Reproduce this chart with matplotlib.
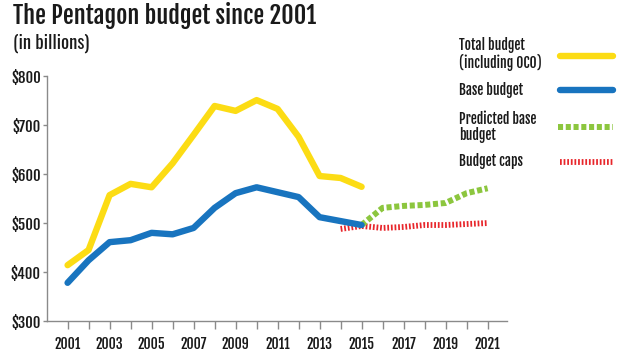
import matplotlib
matplotlib.use("Agg")
import matplotlib.pyplot as plt

years = list(range(2001, 2016))
total_budget = [414, 445, 557, 580, 573, 622, 680, 739, 729, 751, 733, 676, 596, 592, 574]
base_budget = [378, 424, 461, 465, 480, 477, 490, 531, 561, 573, 563, 553, 512, 504, 496]
pred_years = list(range(2015, 2022))
predicted_base = [496, 531, 535, 537, 541, 561, 571]
cap_years = list(range(2014, 2022))
budget_caps = [488, 494, 490, 492, 496, 496, 498, 500]

xtick_years = list(range(2001, 2022, 2))
ytick_vals = [300, 400, 500, 600, 700, 800]
ytick_labels = ["$300", "$400", "$500", "$600", "$700", "$800"]

BOLDF = ["Fjalla One", "DejaVu Sans"]
REGF = ["Oswald", "DejaVu Sans"]
plt.rcParams["font.family"] = BOLDF
TXT = "#1a1a1a"
YEL = "#fcdc14"
BLU = "#1874bf"
GRN = "#8cc63e"
RED = "#e8262b"
GRAY = "#8a8a8a"

GDASH = (0.85, 0.45)
RDASH = (0.3, 0.32)

fig = plt.figure(figsize=(6.3, 3.54), dpi=100)
ax = fig.add_axes([0.0746, 0.0932, 0.805 - 0.0746, 0.785 - 0.0932])

ax.plot(cap_years, budget_caps, color=RED, lw=4.2, dashes=RDASH, zorder=1)
ax.plot(pred_years, predicted_base, color=GRN, lw=4.3, dashes=GDASH, zorder=2)
ax.plot(years, base_budget, color=BLU, lw=4.6, solid_capstyle="round", solid_joinstyle="round", zorder=3)
ax.plot(years, total_budget, color=YEL, lw=4.6, solid_capstyle="round", solid_joinstyle="round", zorder=4)

ax.set_xlim(2000.02, 2021.93)
ax.set_ylim(300, 800)
ax.set_xticks(range(2001, 2022))
ax.set_xticklabels([str(y) if y in xtick_years else "" for y in range(2001, 2022)])
ax.set_yticks(ytick_vals)
ax.set_yticklabels(ytick_labels)
for s in ["top", "right"]:
    ax.spines[s].set_visible(False)
for s in ["left", "bottom"]:
    ax.spines[s].set_color(GRAY)
    ax.spines[s].set_linewidth(1.0)
ax.tick_params(axis="x", colors=GRAY, length=6, width=1.0, direction="out",
               labelcolor=TXT, labelsize=10, pad=5)
ax.tick_params(axis="y", colors=GRAY, length=3, width=1.0, direction="out",
               labelcolor=TXT, labelsize=10.5, pad=1.5)

fig.text(13 / 630, 0.995, "The Pentagon budget since 2001", fontsize=17.5,
         color=TXT, va="top", ha="left")
fig.text(13 / 630, 0.905, "(in billions)", fontsize=13.5, color=TXT, va="top", ha="left", family=REGF)

# legend
tx = 459 / 630
lx0, lx1 = 560 / 630, 613 / 630
def fy(py):
    return 1 - py / 354

LS = 9.8
fig.text(tx, fy(54), "Total budget\n(including OCO)", fontsize=LS,
         color=TXT, va="center", ha="left", linespacing=1.05)
fig.add_artist(plt.Line2D([lx0, lx1], [fy(56), fy(56)], color=YEL, lw=4.6, solid_capstyle="round"))
fig.text(tx, fy(90), "Base budget", fontsize=LS, color=TXT, va="center", ha="left")
fig.add_artist(plt.Line2D([lx0, lx1], [fy(90), fy(90)], color=BLU, lw=4.6, solid_capstyle="round"))
fig.text(tx, fy(127), "Predicted base\nbudget", fontsize=LS,
         color=TXT, va="center", ha="left", linespacing=1.05)
fig.add_artist(plt.Line2D([lx0 - 0.003, lx1], [fy(127), fy(127)], color=GRN, lw=4.3, dashes=GDASH))
fig.add_artist(plt.Line2D([lx0, lx1], [fy(162), fy(162)], color=RED, lw=4.2, dashes=RDASH))
fig.text(tx, fy(161), "Budget caps", fontsize=LS, color=TXT, va="center", ha="left")

fig.savefig("out.png", dpi=100, facecolor="white")
